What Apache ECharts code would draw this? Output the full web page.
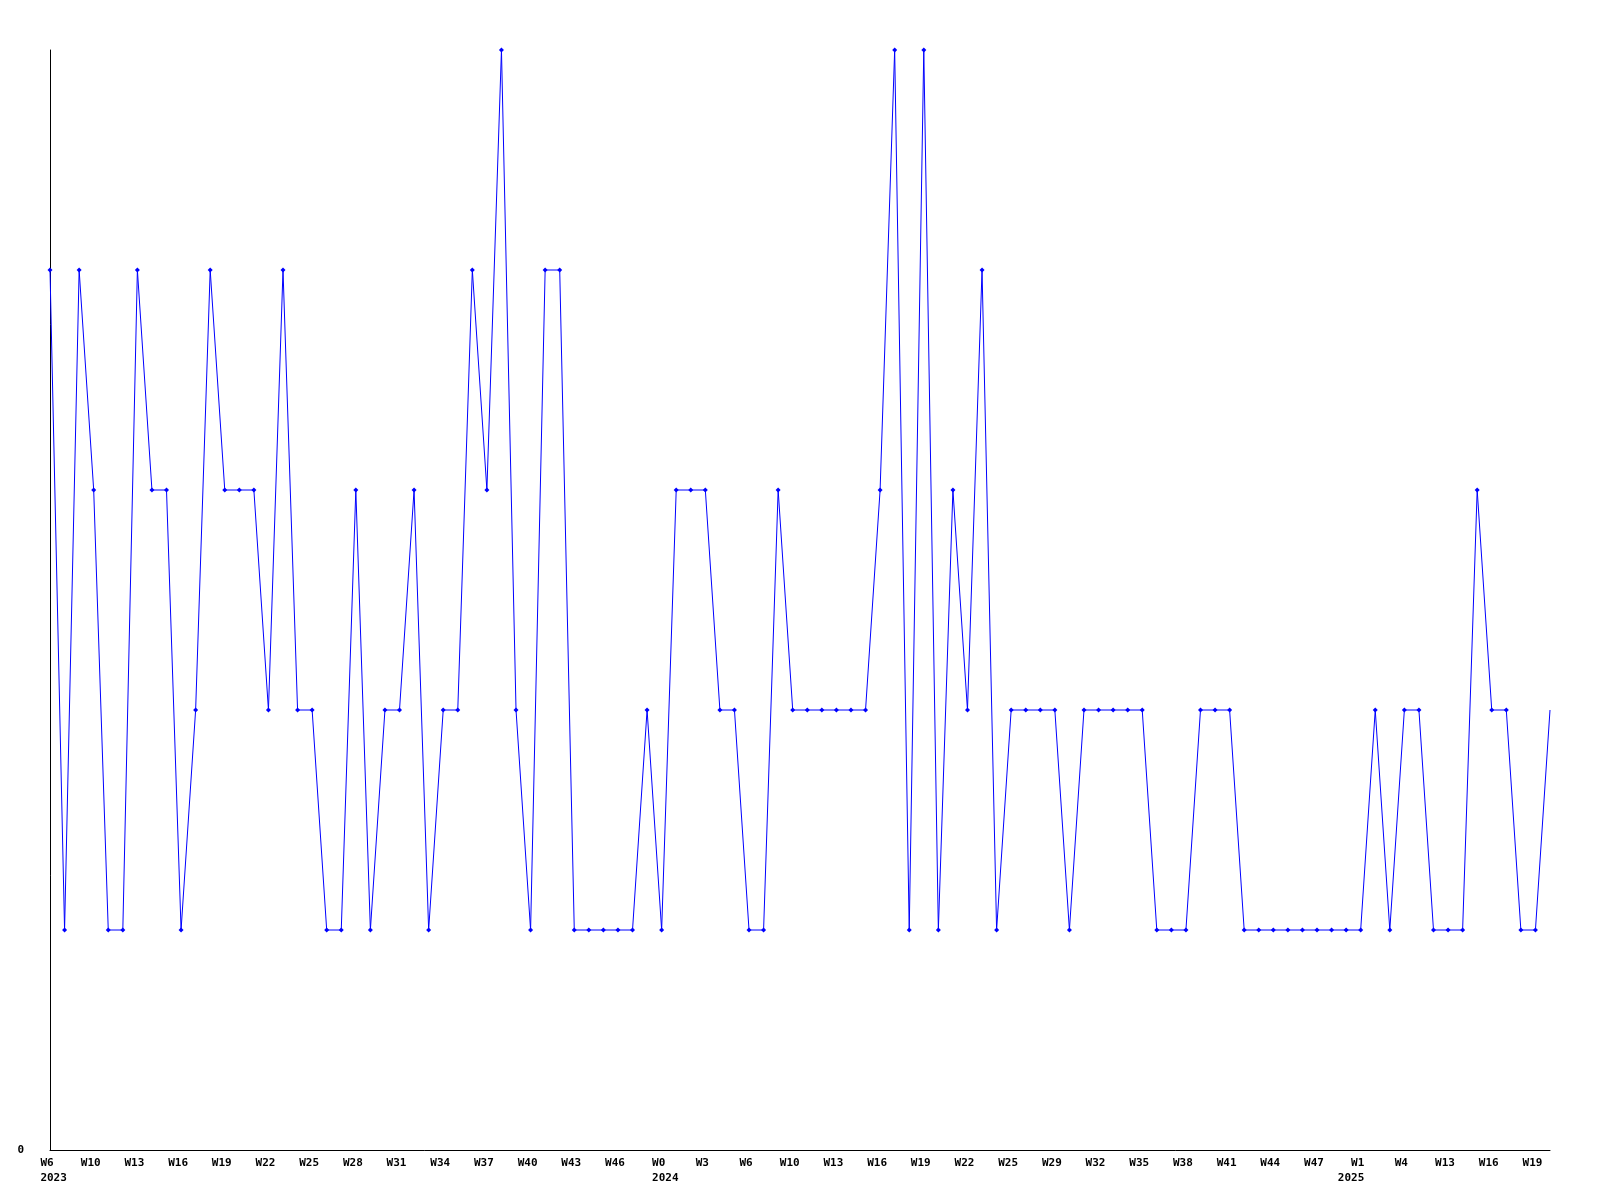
<!DOCTYPE html>
<html>
<head>
<meta charset="utf-8">
<script src="https://cdn.jsdelivr.net/npm/echarts@6/dist/echarts.min.js"></script>
<style>
html,body{margin:0;padding:0;background:#fff;}
#chart{width:1600px;height:1200px;}
</style>
</head>
<body>
<div id="chart"></div>
<script>
// Weekly values, one per week (104 points)
const values = [
  4,1,4,3,1,1,4,3,3,1,
  2,4,3,3,3,2,4,2,2,1,
  1,3,1,2,2,3,1,2,2,4,
  3,5,2,1,4,4,1,1,1,1,
  1,2,1,3,3,3,2,2,1,1,
  3,2,2,2,2,2,2,3,5,1,
  5,1,3,2,4,1,2,2,2,2,
  1,2,2,2,2,2,1,1,1,2,
  2,2,1,1,1,1,1,1,1,1,
  1,2,1,2,2,1,1,1,3,2,
  2,1,1,2
];
// Tick labels, one every 3 weeks
const tickLabels = [
  'W6','W10','W13','W16','W19','W22','W25','W28','W31','W34','W37','W40','W43','W46',
  'W0','W3','W6','W10','W13','W16','W19','W22','W25','W29','W32','W35','W38','W41','W44','W47',
  'W1','W4','W13','W16','W19'
];
// Year sub-labels keyed by tick label position
const yearLabels = { 0: '2023', 14: '2024', 30: '2025' };
const yTickLabels = ['0'];

const categories = values.map((v, i) => (i % 3 === 0 ? tickLabels[i / 3] : ''));

const chart = echarts.init(document.getElementById('chart'));
const font = 'DejaVu Sans Mono';
chart.setOption({
  animation: false,
  backgroundColor: '#ffffff',
  grid: { left: 50, right: 50, top: 50, bottom: 50, containLabel: false },
  xAxis: {
    type: 'category',
    data: categories,
    boundaryGap: false,
    axisLine: { show: true, lineStyle: { color: '#000', width: 1 } },
    axisTick: { show: false },
    splitLine: { show: false },
    axisLabel: {
      interval: 2,
      hideOverlap: false,
      margin: 6,
      padding: [0, 6, 0, 0],
      color: '#000',
      fontFamily: font,
      fontWeight: 'bold',
      fontSize: 11,
      lineHeight: 15,
      formatter: function (val, idx) {
        const k = idx / 3;
        if (yearLabels[k] !== undefined) {
          if (k === 30) return val + '\n' + yearLabels[k] + '  ';
          return val + '\n  ' + yearLabels[k];
        }
        return val;
      }
    }
  },
  yAxis: {
    type: 'value',
    min: 0,
    max: 5,
    interval: 1,
    axisLine: { show: true, lineStyle: { color: '#000', width: 1 } },
    axisTick: { show: false },
    splitLine: { show: false },
    axisLabel: {
      margin: 26,
      color: '#000',
      fontFamily: font,
      fontWeight: 'bold',
      fontSize: 11,
      formatter: function (v) { return v === 0 ? yTickLabels[0] : ''; }
    }
  },
  series: [{
    type: 'line',
    data: values.map((v, i) => (i === values.length - 1 ? { value: v, symbol: 'none' } : v)),
    symbol: 'diamond',
    symbolSize: 5,
    showAllSymbol: true,
    lineStyle: { color: '#0000ff', width: 1 },
    itemStyle: { color: '#0000ff' },
    emphasis: { disabled: true }
  }]
});
</script>
</body>
</html>
